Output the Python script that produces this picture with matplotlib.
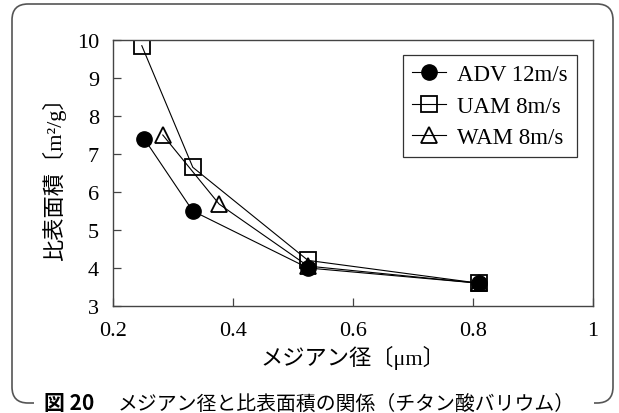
import matplotlib
matplotlib.use('Agg')
import matplotlib.pyplot as plt
from matplotlib.patches import FancyBboxPatch, Rectangle

# データ (メジアン径 µm, 比表面積 m2/g)
adv_x = [0.252, 0.333, 0.525, 0.81]
adv_y = [7.40, 5.50, 4.00, 3.60]
uam_x = [0.248, 0.333, 0.525, 0.81]
uam_y = [9.85, 6.65, 4.20, 3.60]
wam_x = [0.283, 0.377, 0.525, 0.81]
wam_y = [7.50, 5.68, 4.05, 3.60]
labels = ['ADV 12m/s', 'UAM 8m/s', 'WAM 8m/s']
x_ticks = [0.2, 0.4, 0.6, 0.8, 1.0]
x_ticklabels = ['0.2', '0.4', '0.6', '0.8', '1']
y_ticks = [3, 4, 5, 6, 7, 8, 9, 10]

SERIF = ['Liberation Serif', 'Noto Sans CJK JP']
JP = ['Noto Sans CJK JP', 'DejaVu Sans']

W, H = 619, 414
fig = plt.figure(figsize=(W / 100, H / 100), dpi=100)

# 外枠 (角丸)
bg = fig.add_axes([0, 0, 1, 1])
bg.set_xlim(0, W)
bg.set_ylim(0, H)
bg.axis('off')
frame = FancyBboxPatch((12, 10), 601, 399, boxstyle='round,pad=0,rounding_size=16',
                       fc='none', ec='#555555', lw=1.2)
bg.add_patch(frame)
# キャプション部分は枠線を消す
bg.add_patch(Rectangle((34, 0), 560, 20, fc='white', ec='none'))

ax = fig.add_axes([113 / W, 1 - 307 / H, 480 / W, 266 / H])

ax.plot(adv_x, adv_y, '-', color='black', lw=0.8, marker='o', ms=11,
        mfc='black', mec='black', label=labels[0])
ax.plot(uam_x, uam_y, '-', color='black', lw=0.8, marker='s', ms=11,
        mfc='none', mec='black', mew=1.3, label=labels[1])
ax.plot(wam_x, wam_y, '-', color='black', lw=0.8, marker='^', ms=11,
        mfc='none', mec='black', mew=1.3, label=labels[2])

ax.set_xlim(0.2, 1.0)
ax.set_ylim(3, 10)
ax.set_xticks(x_ticks)
ax.set_xticklabels(x_ticklabels)
ax.set_yticks(y_ticks)
ax.tick_params(direction='in', length=6, width=0.9, color='#444444', labelsize=16, pad=10)
ax.tick_params(axis='x', pad=11)
for lab in ax.get_xticklabels() + ax.get_yticklabels():
    lab.set_family(SERIF)
for sp in ax.spines.values():
    sp.set_color('#444444')
    sp.set_linewidth(1.0)

ax.set_xlabel('メジアン径〔μm〕', family=SERIF, fontsize=16, labelpad=3)
ax.set_ylabel('比表面積〔m²/g〕', family=SERIF, fontsize=16, labelpad=8)

leg = ax.legend(loc='upper right', prop={'family': SERIF, 'size': 16.5},
                fancybox=False, framealpha=1, edgecolor='#333333',
                handlelength=1.5, handletextpad=0.5, borderpad=0.38,
                labelspacing=0.45, bbox_to_anchor=(0.99, 0.985))
leg.get_frame().set_linewidth(0.9)

# キャプション
bg.text(44, 10, '図 20', family=JP, fontsize=15, fontweight='bold', va='center', ha='left')
bg.text(118, 10, 'メジアン径と比表面積の関係（チタン酸バリウム）', family=JP, fontsize=14.3,
        va='center', ha='left')

fig.savefig('out.png', dpi=100)
